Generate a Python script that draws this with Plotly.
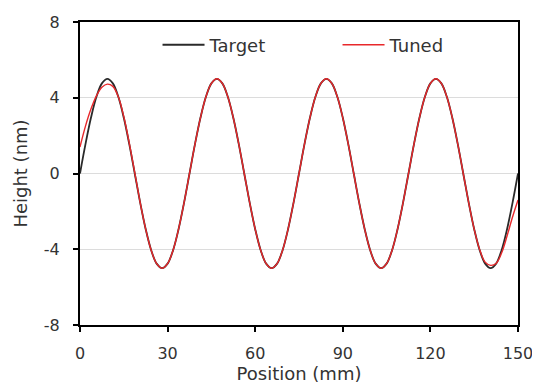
import plotly.graph_objects as go

position = [i * 1.875 for i in range(81)]

target = [0.0, 1.55, 2.94, 4.05, 4.76, 5.0, 4.76, 4.05, 2.94, 1.55,
          0.0, -1.55, -2.94, -4.05, -4.76, -5.0, -4.76, -4.05, -2.94, -1.55,
          0.0, 1.55, 2.94, 4.05, 4.76, 5.0, 4.76, 4.05, 2.94, 1.55,
          0.0, -1.55, -2.94, -4.05, -4.76, -5.0, -4.76, -4.05, -2.94, -1.55,
          0.0, 1.55, 2.94, 4.05, 4.76, 5.0, 4.76, 4.05, 2.94, 1.55,
          0.0, -1.55, -2.94, -4.05, -4.76, -5.0, -4.76, -4.05, -2.94, -1.55,
          0.0, 1.55, 2.94, 4.05, 4.76, 5.0, 4.76, 4.05, 2.94, 1.55,
          0.0, -1.55, -2.94, -4.05, -4.76, -5.0, -4.76, -4.05, -2.94, -1.55,
          0.0]

tuned = [1.4, 2.5, 3.4, 4.1, 4.55, 4.72, 4.6, 4.05, 3.0, 1.6,
         0.05, -1.55, -2.94, -4.05, -4.76, -5.0, -4.76, -4.05, -2.94, -1.55,
         0.0, 1.55, 2.94, 4.05, 4.76, 5.0, 4.76, 4.05, 2.94, 1.55,
         0.0, -1.55, -2.94, -4.05, -4.76, -5.0, -4.76, -4.05, -2.94, -1.55,
         0.0, 1.55, 2.94, 4.05, 4.76, 5.0, 4.76, 4.05, 2.94, 1.55,
         0.0, -1.55, -2.94, -4.05, -4.76, -5.0, -4.76, -4.05, -2.94, -1.55,
         0.0, 1.55, 2.94, 4.05, 4.76, 5.0, 4.76, 4.05, 2.94, 1.55,
         0.0, -1.55, -2.94, -4.02, -4.68, -4.85, -4.75, -4.2, -3.3, -2.3,
         -1.4]

x_ticks = [0, 30, 60, 90, 120, 150]
x_tick_labels = ["0", "30", "60", "90", "120", "150"]
y_ticks = [-8, -4, 0, 4, 8]
y_tick_labels = ["-8", "-4", "0", "4", "8"]

font_family = "DejaVu Sans, Verdana, sans-serif"
text_color = "#333333"

fig = go.Figure()
fig.add_trace(go.Scatter(x=position, y=target, mode="lines", name="Target",
                         line=dict(color="#2a2a2a", width=1.8, shape="spline", smoothing=1)))
fig.add_trace(go.Scatter(x=position, y=tuned, mode="lines", name="Tuned",
                         line=dict(color="#e8282b", width=1.4, shape="spline", smoothing=1)))

axis_common = dict(showline=True, linecolor="black", linewidth=2, mirror=True,
                   ticks="outside", ticklen=5, tickwidth=2, tickcolor="black",
                   tickfont=dict(family=font_family, size=16, color=text_color),
                   zeroline=False, automargin=False)

fig.update_xaxes(range=[0, 150], tickvals=x_ticks, ticktext=x_tick_labels,
                 showgrid=False, ticklabelstandoff=8,
                 title=dict(text="Position (mm)", standoff=0,
                            font=dict(family=font_family, size=18, color=text_color)),
                 **axis_common)
fig.update_yaxes(range=[-8, 8], tickvals=y_ticks, ticktext=y_tick_labels,
                 showgrid=True, gridcolor="#dcdcdc", gridwidth=1,
                 ticklabelstandoff=10,
                 title=dict(text="Height (nm)", standoff=12,
                            font=dict(family=font_family, size=18, color=text_color)),
                 **axis_common)

fig.update_layout(
    width=532, height=376,
    margin=dict(l=72, r=22, t=14, b=59, autoexpand=False),
    paper_bgcolor="white", plot_bgcolor="white",
    font=dict(family=font_family, size=16, color=text_color),
    legend=dict(orientation="h", x=0.177, y=0.924, xanchor="left", yanchor="middle",
                bgcolor="rgba(0,0,0,0)", itemwidth=42, entrywidth=123, entrywidthmode="pixels",
                font=dict(family=font_family, size=18, color=text_color)),
)

fig.write_html("out.html")
